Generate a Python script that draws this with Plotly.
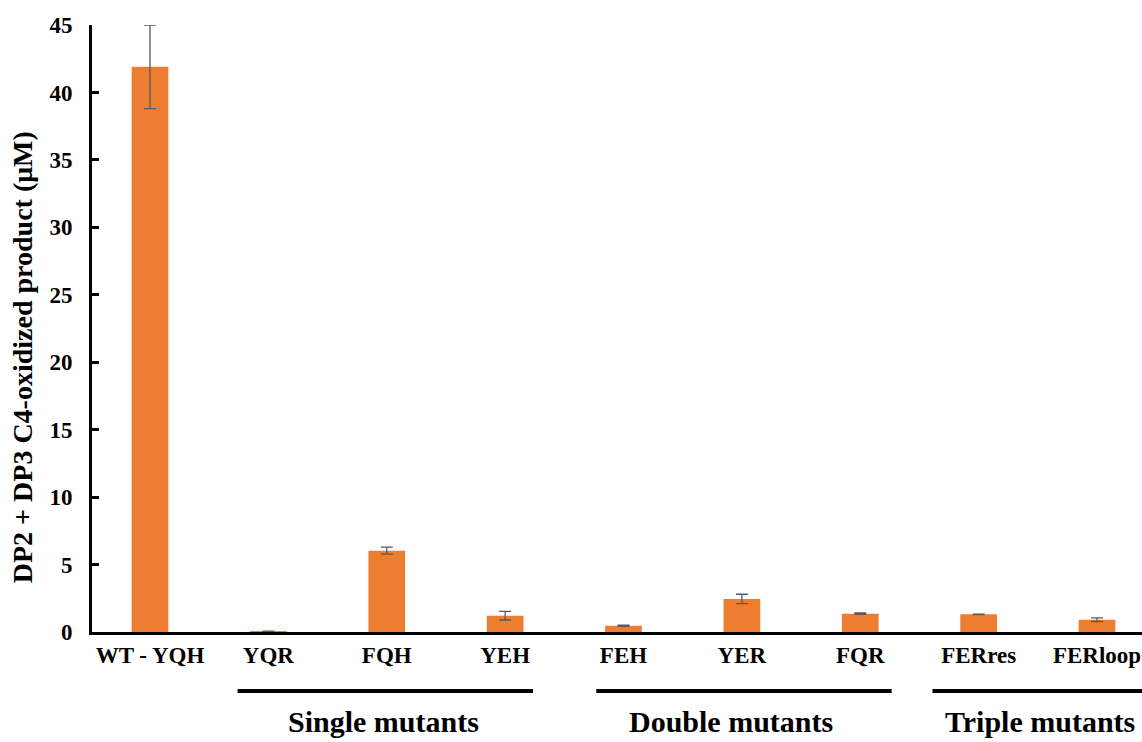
import plotly.graph_objects as go

# Mutant variants and measured product (µM) with standard deviations
variants = ["WT - YQH", "YQR", "FQH", "YEH", "FEH", "YER", "FQR", "FERres", "FERloop"]
product_um = [41.9, 0.05, 6.03, 1.21, 0.46, 2.45, 1.36, 1.31, 0.91]
std_um = [3.1, 0.02, 0.26, 0.32, 0.04, 0.35, 0.05, 0.02, 0.13]
y_ticks = [0, 5, 10, 15, 20, 25, 30, 35, 40, 45]

# Grouping of the variants shown under the axis
group_names = ["Single mutants", "Double mutants", "Triple mutants"]
group_line_spans = [(0.74, 3.235), (3.77, 6.265), (6.61, 8.6)]
group_label_x = [1.97, 4.91, 7.52]

FONT = "Liberation Serif"
ORANGE = "#ED7D31"

fig = go.Figure(
    go.Bar(
        x=list(range(len(variants))),
        y=product_um,
        width=0.31,
        marker=dict(color=ORANGE, line=dict(width=0)),
        error_y=dict(type="data", array=std_um, visible=True,
                     color="#595959", thickness=1.3, width=6),
    )
)

shapes = []
annotations = []
for name, (x0, x1), lx in zip(group_names, group_line_spans, group_label_x):
    shapes.append(dict(type="line", xref="x", yref="paper",
                       x0=x0, x1=x1, y0=-0.097, y1=-0.097,
                       line=dict(color="black", width=4)))
    annotations.append(dict(text=f"<b>{name}</b>", xref="x", yref="paper",
                            x=lx, y=-0.148, showarrow=False,
                            xanchor="center", yanchor="middle",
                            font=dict(family=FONT, size=30, color="black")))

# Y-axis title, placed slightly below the plot-area centre
annotations.append(dict(text="<b>DP2 + DP3 C4-oxidized product (μM)</b>",
                        xref="paper", yref="paper", x=-0.0665, y=0.453,
                        textangle=-90, showarrow=False,
                        xanchor="center", yanchor="middle",
                        font=dict(family=FONT, size=28, color="black")))

fig.update_layout(
    width=1142, height=742,
    margin=dict(l=92, r=0, t=25, b=110),
    paper_bgcolor="white", plot_bgcolor="white",
    showlegend=False,
    font=dict(family=FONT, color="black"),
    shapes=shapes,
    annotations=annotations,
    xaxis=dict(
        range=[-0.49, 8.38],
        tickmode="array",
        tickvals=list(range(len(variants))),
        ticktext=[f"<b>{v}</b>" for v in variants],
        tickfont=dict(family=FONT, size=23, color="black"),
        ticks="", showgrid=False, zeroline=False,
        showline=True, linecolor="black", linewidth=3,
    ),
    yaxis=dict(
        range=[0, 45],
        tickvals=y_ticks,
        ticktext=[f"<b>{v}</b>" for v in y_ticks],
        tickfont=dict(family=FONT, size=23, color="black"),
        ticks="inside", ticklen=7, tickwidth=3, tickcolor="black",
        ticklabelstandoff=12,
        showgrid=False, zeroline=False,
        showline=True, linecolor="black", linewidth=3,
    ),
)

fig.write_html("out.html")
